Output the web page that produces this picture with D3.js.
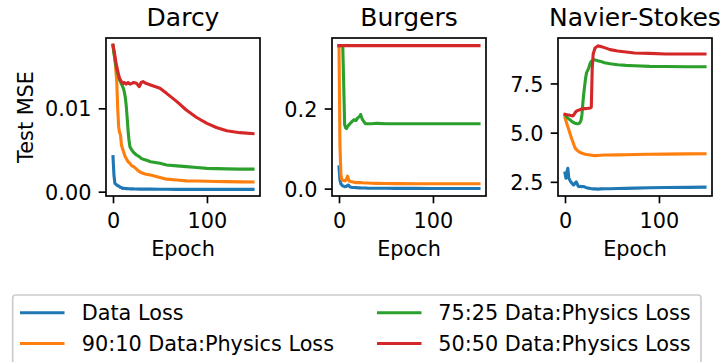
<!DOCTYPE html>
<html>
<head>
<meta charset="utf-8">
<script src="https://cdn.jsdelivr.net/npm/d3@7"></script>
<style>
  html, body { margin: 0; padding: 0; background: #fff; }
  svg { display: block; font-family: "DejaVu Sans", sans-serif; }
</style>
</head>
<body>
<svg id="chart" width="722" height="362"></svg>
<script>
// ---------------- DATA ----------------
const seriesNames = ["Data Loss", "90:10 Data:Physics Loss", "75:25 Data:Physics Loss", "50:50 Data:Physics Loss"];
const panelTitles = ["Darcy", "Burgers", "Navier-Stokes"];
const xTicks = [0, 100];
const darcyYTicks = [0.00, 0.01];
const burgersYTicks = [0.0, 0.2];
const nsYTicks = [2.5, 5.0, 7.5];
const darcyYLimits = [-0.00052, 0.01844];
const burgersYLimits = [-0.0184, 0.376];
const nsYLimits = [1.78, 9.81];
const xLimits = [-7.45, 156.45];

// Darcy
const darcyEpochs = [0,1,2,3,4,5,6,7,8,9,10,11,12,13,14,15,16,17,18,20,22,25,28,30,32,35,40,50,57,68,78,89,100,110,121,135,149];
const darcyData   = [0.0042,0.0020,0.0010,0.0009,0.0008,0.0007,0.0007,0.0006,0.0005,0.0005,0.0004,0.0004,0.0004,0.00038,0.00036,0.00036,0.00035,0.00035,0.00034,0.00035,0.00033,0.00032,0.00031,0.00031,0.0003,0.0003,0.0003,0.00029,0.00029,0.00028,0.00028,0.00028,0.00028,0.00028,0.00028,0.00028,0.00028];
const darcy9010   = [0.0175,0.0168,0.0160,0.0146,0.0132,0.0100,0.0078,0.0071,0.0068,0.0056,0.0052,0.0049,0.0045,0.0042,0.0040,0.0038,0.0036,0.0035,0.0034,0.0031,0.0030,0.0027,0.0024,0.0023,0.0022,0.0021,0.0020,0.0017,0.0015,0.0014,0.0013,0.00128,0.00125,0.00122,0.0012,0.00118,0.00116];
const darcy7525   = [0.0175,0.0166,0.0159,0.0152,0.0146,0.0142,0.0138,0.0134,0.0132,0.0129,0.0127,0.0124,0.0120,0.0114,0.0104,0.0090,0.0074,0.0062,0.0054,0.0050,0.0047,0.0044,0.0042,0.0040,0.0039,0.0038,0.0036,0.0034,0.0032,0.0031,0.0030,0.0029,0.0028,0.00276,0.00273,0.0027,0.0027];
const darcy5050   = [0.0176,0.0170,0.0163,0.0156,0.0150,0.0145,0.0140,0.0136,0.0134,0.0132,0.0131,0.0130,0.0131,0.0130,0.0129,0.0130,0.0131,0.0130,0.0129,0.0130,0.0131,0.0130,0.0126,0.0131,0.0132,0.0130,0.0128,0.0124,0.0118,0.0108,0.0098,0.0089,0.0082,0.0077,0.0073,0.00708,0.00696];

// Burgers
const burgersEpochs = [0,1,2,3,4,5,6,7,8,9,10,11,12,14,16,18,20,22,23,25,28,30,35,40,50,60,80,100,120,149];
const burgersData   = [0.054,0.021,0.012,0.009,0.007,0.006,0.005,0.005,0.006,0.008,0.009,0.006,0.004,0.003,0.003,0.0025,0.002,0.002,0.0018,0.0016,0.0014,0.0012,0.001,0.001,0.0008,0.0007,0.0006,0.0005,0.0005,0.0005];
const burgers9010   = [0.357,0.11,0.035,0.023,0.021,0.020,0.020,0.020,0.024,0.031,0.024,0.019,0.018,0.017,0.016,0.015,0.015,0.015,0.015,0.0145,0.014,0.014,0.0135,0.0132,0.0128,0.0125,0.0123,0.0122,0.012,0.012];
const burgers7525   = [0.357,0.357,0.357,0.357,0.357,0.26,0.16,0.152,0.150,0.155,0.158,0.160,0.163,0.168,0.172,0.170,0.177,0.180,0.185,0.172,0.162,0.162,0.162,0.163,0.162,0.162,0.162,0.162,0.162,0.162];
const burgers5050   = [0.357,0.357,0.357,0.357,0.357,0.357,0.357,0.357,0.357,0.357,0.357,0.357,0.357,0.357,0.357,0.357,0.357,0.357,0.357,0.357,0.357,0.357,0.357,0.357,0.357,0.357,0.357,0.357,0.357,0.357];

// Navier-Stokes
const nsEpochs = [0,1,2,3,4,5,6,7,8,9,10,11,12,13,14,15,16,17,18,19,20,21,22,23,25,26,27,28,29,30,32,35,38,42,48,56,65,74,90,107,130,149];
const nsData   = [2.95,2.68,3.0,3.19,2.7,2.6,2.51,2.45,2.4,2.34,2.38,2.45,2.5,2.4,2.28,2.25,2.26,2.27,2.25,2.26,2.26,2.24,2.22,2.2,2.18,2.17,2.16,2.15,2.15,2.14,2.14,2.13,2.14,2.15,2.15,2.16,2.17,2.18,2.2,2.21,2.22,2.23];
const ns9010   = [5.76,5.6,5.45,5.3,5.16,5.0,4.85,4.7,4.58,4.45,4.32,4.2,4.15,4.1,4.06,4.03,4.0,3.98,3.96,3.94,3.93,3.9,3.9,3.89,3.88,3.87,3.86,3.85,3.85,3.84,3.83,3.84,3.85,3.86,3.86,3.87,3.88,3.89,3.9,3.91,3.92,3.93];
const ns7525   = [5.9,5.85,5.78,5.74,5.70,5.66,5.63,5.58,5.55,5.52,5.49,5.47,5.46,5.45,5.45,5.47,5.52,5.62,5.9,6.5,7.0,7.4,7.8,8.05,8.25,8.4,8.55,8.62,8.65,8.68,8.7,8.65,8.62,8.55,8.5,8.45,8.42,8.4,8.37,8.36,8.35,8.35];
const ns5050   = [5.93,5.92,5.91,5.90,5.90,5.88,5.87,5.86,5.85,5.88,5.95,6.03,6.08,6.11,6.13,6.15,6.17,6.19,6.2,6.21,6.21,6.22,6.22,6.23,6.24,6.24,6.25,6.3,8.3,9.0,9.3,9.41,9.38,9.32,9.22,9.15,9.1,9.05,9.03,9.0,9.0,9.0];

// ---------------- LAYOUT ----------------
const colors = ["#1f77b4", "#ff7f0e", "#2ca02c", "#d62728"];
const panels = [
  { title: panelTitles[0], epochs: darcyEpochs, series: [darcyData, darcy9010, darcy7525, darcy5050], yTicks: darcyYTicks, yLim: darcyYLimits, fmt: d3.format(".2f") },
  { title: panelTitles[1], epochs: burgersEpochs, series: [burgersData, burgers9010, burgers7525, burgers5050], yTicks: burgersYTicks, yLim: burgersYLimits, fmt: d3.format(".1f") },
  { title: panelTitles[2], epochs: nsEpochs, series: [nsData, ns9010, ns7525, ns5050], yTicks: nsYTicks, yLim: nsYLimits, fmt: d3.format(".1f") }
];
const axLefts = [106, 332, 558];
const axW = 154, axTop = 38, axBottom = 196;
const fs = 20.8, titleFs = 25;
const tickLen = 7.3, tickPad = 7.3;
const spineW = 1.67, lineW = 3.1;

const svg = d3.select("#chart");
const defs = svg.append("defs");

panels.forEach((p, i) => {
  const left = axLefts[i];
  const x = d3.scaleLinear().domain(xLimits).range([left, left + axW]);
  const y = d3.scaleLinear().domain(p.yLim).range([axBottom, axTop]);
  const g = svg.append("g");

  defs.append("clipPath").attr("id", "clip" + i)
    .append("rect").attr("x", left).attr("y", axTop).attr("width", axW).attr("height", axBottom - axTop);

  const lines = g.append("g").attr("clip-path", `url(#clip${i})`);
  const lineGen = d3.line().x(d => x(d[0])).y(d => y(d[1]));
  p.series.forEach((vals, k) => {
    const pts = p.epochs.map((e, j) => [e, vals[j]]);
    lines.append("path").datum(pts)
      .attr("d", lineGen)
      .attr("fill", "none")
      .attr("stroke", colors[k])
      .attr("stroke-width", lineW)
      .attr("stroke-linejoin", "round")
      .attr("stroke-linecap", "square");
  });

  // spines
  g.append("rect").attr("x", left).attr("y", axTop).attr("width", axW).attr("height", axBottom - axTop)
    .attr("fill", "none").attr("stroke", "#000").attr("stroke-width", spineW);

  // x axis
  const xAxis = d3.axisBottom(x).tickValues(xTicks).tickSize(tickLen).tickPadding(tickPad).tickFormat(d3.format("d"));
  const xa = g.append("g").attr("transform", `translate(0,${axBottom})`).call(xAxis);
  xa.select(".domain").remove();
  xa.selectAll(".tick line").attr("stroke", "#000").attr("stroke-width", spineW);
  xa.selectAll(".tick text").attr("font-size", fs).attr("font-family", "DejaVu Sans").attr("fill", "#000")
    .attr("dy", null).attr("y", 227.5 - axBottom).attr("dominant-baseline", "alphabetic");

  // y axis
  const yAxis = d3.axisLeft(y).tickValues(p.yTicks).tickSize(tickLen).tickPadding(tickPad).tickFormat(p.fmt);
  const ya = g.append("g").attr("transform", `translate(${left},0)`).call(yAxis);
  ya.select(".domain").remove();
  ya.selectAll(".tick line").attr("stroke", "#000").attr("stroke-width", spineW);
  ya.selectAll(".tick text").attr("font-size", fs).attr("font-family", "DejaVu Sans").attr("fill", "#000")
    .attr("dy", null).attr("y", 7.6).attr("dominant-baseline", "alphabetic");

  // title
  g.append("text").attr("x", left + axW / 2).attr("y", 26).attr("text-anchor", "middle")
    .attr("font-size", titleFs).attr("fill", "#000").text(p.title);

  // x label
  g.append("text").attr("x", left + axW / 2).attr("y", 256).attr("text-anchor", "middle")
    .attr("font-size", fs).attr("fill", "#000").text("Epoch");
});

// y label
svg.append("text").attr("transform", `translate(33,${(axTop + axBottom) / 2}) rotate(-90)`)
  .attr("text-anchor", "middle").attr("font-size", fs).attr("fill", "#000").text("Test MSE");

// legend
const leg = svg.append("g");
leg.append("rect").attr("x", 12.7).attr("y", 295).attr("width", 688.3).attr("height", 90).attr("rx", 3)
  .attr("fill", "#fff").attr("stroke", "#cccccc").attr("stroke-width", 1.67);
const legCols = [{ hx: 20, tx: 81.7 }, { hx: 377, tx: 438.3 }];
const legRows = [312.7, 343.5];
seriesNames.forEach((name, k) => {
  const col = legCols[Math.floor(k / 2)];
  const ry = legRows[k % 2];
  leg.append("line").attr("x1", col.hx).attr("x2", col.hx + 44.5).attr("y1", ry).attr("y2", ry)
    .attr("stroke", colors[k]).attr("stroke-width", lineW);
  leg.append("text").attr("x", col.tx).attr("y", ry + 7.6).attr("font-size", fs).attr("fill", "#000").text(name);
});
</script>
</body>
</html>
